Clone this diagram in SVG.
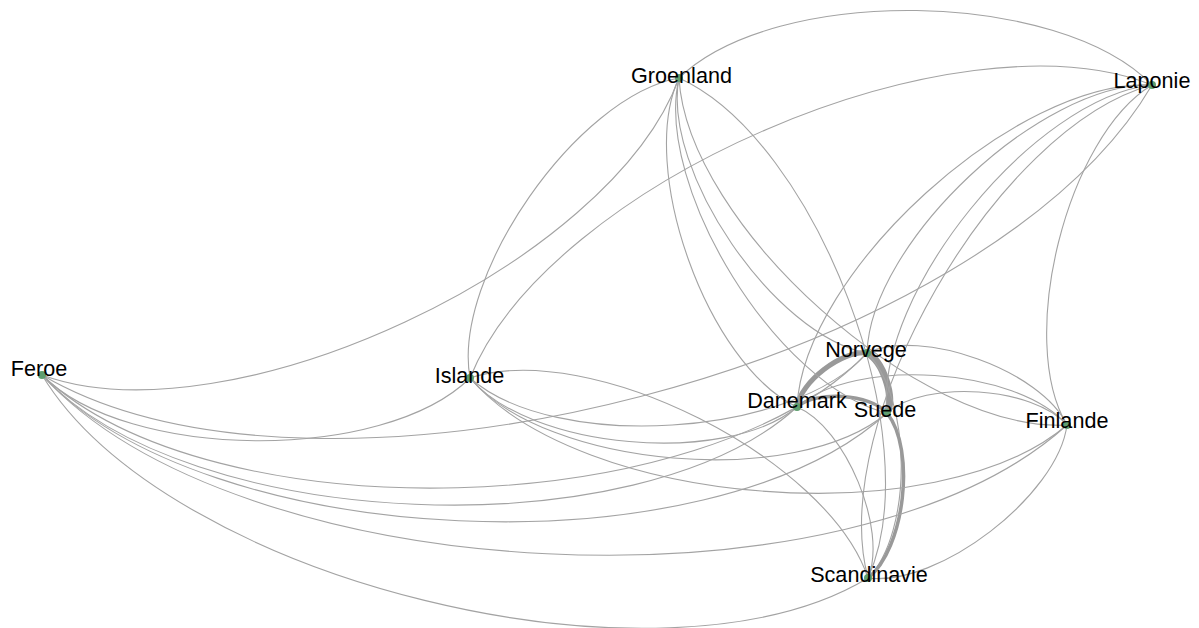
<svg xmlns="http://www.w3.org/2000/svg" width="1199" height="628" viewBox="0 0 1199 628">
<style>
.e{fill:none;stroke:#a3a3a3;stroke-width:1.1}
.w{fill:none;stroke:#999999}
.n{fill:#5f9e6f}
.t{font-family:"Liberation Sans",Arial,sans-serif;font-size:21.6px;fill:#000;text-anchor:middle}
</style>
<rect width="1199" height="628" fill="#ffffff"/>
<g id="connectors">
<path class="w" stroke-width="5" d="M797,407 C800.2,382.2 842.2,349.8 867,353"/>
<path class="w" stroke-width="3.5" d="M797,407 C816.2,390.2 870.2,393.8 887,413"/>
<path class="e" d="M797,407 C854.6,356.6 1016.6,367.4 1067,425"/>
<path class="e" d="M797,407 C725.8,466.6 529.6,449.2 470,378"/>
<path class="e" d="M797,407 C707.6,364.8 636.8,167.4 679,78"/>
<path class="e" stroke-width="1.6" d="M797,407 C845.4,427 888,529.6 868,578"/>
<path class="e" d="M797,407 C803.6,271.6 1016.6,78.4 1152,85"/>
<path class="e" d="M797,407 C639.6,551.6 186.6,532.4 42,375"/>
<path class="w" stroke-width="7" d="M867,353 C883,361 895,397 887,413"/>
<path class="e" d="M867,353 C921.4,327.4 1041.4,370.6 1067,425"/>
<path class="e" d="M867,353 C792.6,437.4 554.4,452.4 470,378"/>
<path class="e" d="M867,353 C774.4,335.6 661.6,170.6 679,78"/>
<path class="e" d="M867,353 C912.2,397.8 912.8,532.8 868,578"/>
<path class="e" d="M867,353 C870.4,242.4 1041.4,81.6 1152,85"/>
<path class="e" d="M867,353 C706.4,522.4 211.4,535.6 42,375"/>
<path class="e" d="M887,413 C925.4,379.4 1033.4,386.6 1067,425"/>
<path class="e" d="M887,413 C796.6,489.4 546.4,468.4 470,378"/>
<path class="e" d="M887,413 C778.4,387.6 653.6,186.6 679,78"/>
<path class="w" stroke-width="3.5" d="M887,413 C916.2,449.8 904.8,548.8 868,578"/>
<path class="e" d="M887,413 C874.4,294.4 1033.4,97.6 1152,85"/>
<path class="e" d="M887,413 C710.4,574.4 203.4,551.6 42,375"/>
<path class="e" d="M1067,425 C938.2,535 580,506.8 470,378"/>
<path class="e" d="M1067,425 C920,433.2 687.2,225 679,78"/>
<path class="e" d="M1067,425 C1057.8,495.4 938.4,587.2 868,578"/>
<path class="e" d="M1067,425 C1016,340 1067,136 1152,85"/>
<path class="e" d="M1067,425 C852,620 237,590 42,375"/>
<path class="e" d="M470,378 C451.8,276.2 577.2,96.2 679,78"/>
<path class="e" d="M470,378 C589.6,338.4 828.4,458.4 868,578"/>
<path class="e" d="M470,378 C547.8,183 957,7.2 1152,85"/>
<path class="e" d="M470,378 C383.8,463 127,461.2 42,375"/>
<path class="e" d="M679,78 C816.8,140.2 930.2,440.2 868,578"/>
<path class="e" d="M679,78 C775,-15.2 1058.8,-11 1152,85"/>
<path class="e" d="M679,78 C611,264.8 228.8,443 42,375"/>
<path class="e" d="M868,578 C826.2,422.6 996.6,126.8 1152,85"/>
<path class="e" d="M868,578 C662.2,702.6 166.6,580.8 42,375"/>
<path class="e" d="M1152,85 C988,365 322,539 42,375"/>
</g>
<g id="node-danemark"><circle class="n" cx="797" cy="407" r="4"/><text class="t" x="797" y="408">Danemark</text></g>
<g id="node-norvege"><circle class="n" cx="867" cy="353" r="4"/><text class="t" x="866" y="357">Norvege</text></g>
<g id="node-suede"><circle class="n" cx="887" cy="413" r="4"/><text class="t" x="885" y="417">Suede</text></g>
<g id="node-finlande"><circle class="n" cx="1067" cy="425" r="4"/><text class="t" x="1067" y="428">Finlande</text></g>
<g id="node-islande"><circle class="n" cx="470" cy="378" r="4"/><text class="t" x="469.5" y="383">Islande</text></g>
<g id="node-groenland"><circle class="n" cx="679" cy="78" r="4"/><text class="t" x="681.5" y="83">Groenland</text></g>
<g id="node-scandinavie"><circle class="n" cx="868" cy="578" r="4"/><text class="t" x="869" y="582">Scandinavie</text></g>
<g id="node-laponie"><circle class="n" cx="1152" cy="85" r="4"/><text class="t" x="1152" y="88">Laponie</text></g>
<g id="node-feroe"><circle class="n" cx="42" cy="375" r="4"/><text class="t" x="39" y="376">Feroe</text></g>
</svg>
